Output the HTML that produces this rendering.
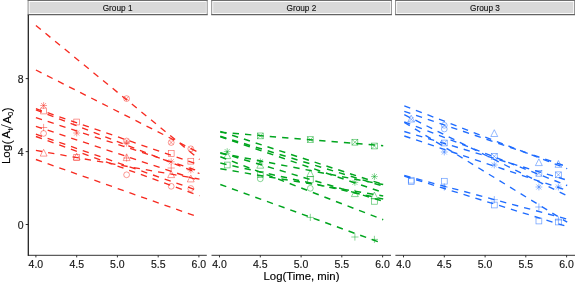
<!DOCTYPE html>
<html><head><meta charset="utf-8"><title>Log plot</title>
<style>html,body{margin:0;padding:0;background:#fff}svg{display:block}</style></head>
<body>
<svg width="575" height="283" viewBox="0 0 575 283" font-family="Liberation Sans, Arial, sans-serif">
<rect width="575" height="283" fill="#fff"/>
<rect x="27.6" y="0" width="180.1" height="15.2" fill="#fff"/>
<path d="M28.1 0.45V14.65M207.2 0.45V14.65" stroke="#8c8c8c" stroke-width="1" fill="none"/>
<path d="M27.6 0.45H207.7" stroke="#6e6e6e" stroke-width="1.15" fill="none"/>
<path d="M27.6 14.65H207.7" stroke="#636363" stroke-width="1.25" fill="none"/>
<rect x="29.6" y="1.95" width="176.3" height="11.2" fill="#d9d9d9"/>
<text x="117.6" y="10.6" font-size="8.25" text-anchor="middle" fill="#111" stroke="#111" stroke-width="0.12">Group 1</text>
<g stroke="#f72a20" stroke-width="1.33" stroke-dasharray="6.35 6.05" fill="none">
<path d="M35.9 25.5L199.5 159.5"/>
<path d="M35.9 70.0L199.5 152.9"/>
<path d="M35.9 108.7L199.5 165.0"/>
<path d="M35.9 109.9L199.5 173.5"/>
<path d="M35.9 117.6L199.5 171.2"/>
<path d="M35.9 126.3L199.5 180.7"/>
<path d="M35.9 134.2L199.5 191.2"/>
<path d="M35.9 136.5L199.5 195.7"/>
<path d="M35.9 150.4L199.5 179.1"/>
<path d="M35.9 159.5L199.5 217.5"/>
</g>
<g stroke="#f72a20" stroke-width="0.65" stroke-opacity="0.72" fill="none">
<path d="M40.2 105.5H47.0M43.6 102.1V108.9"/><path d="M41.1 103.0L46.1 108.0M41.1 108.0L46.1 103.0"/>
<rect x="40.7" y="108.1" width="5.8" height="5.8"/>
<path d="M40.0 127.5H47.2M43.6 123.9V131.1"/>
<circle cx="43.6" cy="133.4" r="2.9"/>
<path d="M43.6 149.3L47.1 156.1L40.2 156.1Z"/>
<rect x="73.8" y="119.1" width="5.8" height="5.8"/>
<path d="M73.2 133.0H80.1M76.7 129.6V136.4"/><path d="M74.2 130.5L79.2 135.5M74.2 135.5L79.2 130.5"/>
<rect x="73.8" y="154.5" width="5.8" height="5.8"/><path d="M76.7 153.2L80.1 160.0L73.2 160.0Z"/>
<circle cx="126.6" cy="98.6" r="2.9"/><path d="M124.6 96.5L128.7 100.6M124.6 100.6L128.7 96.5"/>
<circle cx="126.6" cy="141.0" r="2.9"/><path d="M124.6 138.9L128.7 143.1M124.6 143.1L128.7 138.9"/>
<path d="M123.2 143.2H130.0M126.6 139.8V146.6"/><path d="M124.1 140.7L129.1 145.7M124.1 145.7L129.1 140.7"/>
<path d="M126.6 153.8L130.1 160.6L123.2 160.6Z"/>
<path d="M123.0 158.0H130.2M126.6 154.4V161.6"/>
<circle cx="126.6" cy="174.8" r="2.9"/>
<circle cx="171.2" cy="142.5" r="2.9"/><path d="M169.1 140.4L173.2 144.6M169.1 144.6L173.2 140.4"/>
<rect x="168.3" y="150.6" width="5.8" height="5.8"/>
<path d="M167.8 161.8H174.6M171.2 158.4V165.2"/><path d="M168.7 159.3L173.7 164.3M168.7 164.3L173.7 159.3"/>
<path d="M167.6 168.0H174.8M171.2 164.4V171.6"/>
<path d="M171.2 170.8L174.6 177.6L167.7 177.6Z"/>
<circle cx="171.2" cy="186.3" r="2.9"/>
<circle cx="190.8" cy="148.8" r="2.9"/><path d="M188.7 146.8L192.8 150.9M188.7 150.9L192.8 146.8"/>
<rect x="187.9" y="158.3" width="5.8" height="5.8"/>
<path d="M187.4 170.0H194.2M190.8 166.6V173.4"/><path d="M188.3 167.5L193.3 172.5M188.3 172.5L193.3 167.5"/>
<path d="M190.8 175.1L194.2 181.9L187.3 181.9Z"/>
<circle cx="190.8" cy="188.5" r="2.9"/>
</g>
<path d="M27.9 255.3H206.8" stroke="#1c1c1c" stroke-width="0.9" fill="none"/>
<path d="M35.9 255.3V257.40000000000003" stroke="#1c1c1c" stroke-width="0.9"/>
<text x="35.9" y="268.1" font-size="10.5" text-anchor="middle" fill="#151515" stroke="#151515" stroke-width="0.15">4.0</text>
<path d="M76.7 255.3V257.40000000000003" stroke="#1c1c1c" stroke-width="0.9"/>
<text x="76.7" y="268.1" font-size="10.5" text-anchor="middle" fill="#151515" stroke="#151515" stroke-width="0.15">4.5</text>
<path d="M117.4 255.3V257.40000000000003" stroke="#1c1c1c" stroke-width="0.9"/>
<text x="117.4" y="268.1" font-size="10.5" text-anchor="middle" fill="#151515" stroke="#151515" stroke-width="0.15">5.0</text>
<path d="M158.2 255.3V257.40000000000003" stroke="#1c1c1c" stroke-width="0.9"/>
<text x="158.2" y="268.1" font-size="10.5" text-anchor="middle" fill="#151515" stroke="#151515" stroke-width="0.15">5.5</text>
<path d="M198.9 255.3V257.40000000000003" stroke="#1c1c1c" stroke-width="0.9"/>
<text x="198.9" y="268.1" font-size="10.5" text-anchor="middle" fill="#151515" stroke="#151515" stroke-width="0.15">6.0</text>
<rect x="211.2" y="0" width="180.7" height="15.2" fill="#fff"/>
<path d="M211.7 0.45V14.65M391.4 0.45V14.65" stroke="#8c8c8c" stroke-width="1" fill="none"/>
<path d="M211.2 0.45H391.9" stroke="#6e6e6e" stroke-width="1.15" fill="none"/>
<path d="M211.2 14.65H391.9" stroke="#636363" stroke-width="1.25" fill="none"/>
<rect x="213.2" y="1.95" width="176.9" height="11.2" fill="#d9d9d9"/>
<text x="301.4" y="10.6" font-size="8.25" text-anchor="middle" fill="#111" stroke="#111" stroke-width="0.12">Group 2</text>
<g stroke="#00a51e" stroke-width="1.5" stroke-dasharray="6.35 6.05" fill="none">
<path d="M220.3 132.3L383.2 145.8"/>
<path d="M220.3 131.4L383.2 184.5"/>
<path d="M220.3 136.3L383.2 186.2"/>
<path d="M220.3 136.7L383.2 192.6"/>
<path d="M220.3 153.2L383.2 184.6"/>
<path d="M220.3 152.6L383.2 201.2"/>
<path d="M220.3 156.7L383.2 219.7"/>
<path d="M220.3 163.1L383.2 199.1"/>
<path d="M220.3 168.8L383.2 195.9"/>
<path d="M220.3 184.5L383.2 243.6"/>
</g>
<g stroke="#00a51e" stroke-width="0.65" stroke-opacity="0.72" fill="none">
<path d="M223.8 151.6H230.6M227.2 148.2V155.0"/><path d="M224.7 149.1L229.7 154.1M224.7 154.1L229.7 149.1"/>
<path d="M227.2 151.8L230.7 158.6L223.8 158.6Z"/>
<rect x="224.3" y="162.1" width="5.8" height="5.8"/>
<rect x="257.4" y="133.0" width="5.8" height="5.8"/><path d="M257.4 133.0L263.2 138.8M257.4 138.8L263.2 133.0"/>
<path d="M256.9 161.8H263.7M260.3 158.4V165.2"/><path d="M257.8 159.3L262.8 164.3M257.8 164.3L262.8 159.3"/>
<path d="M260.3 161.4L263.7 168.2L256.8 168.2Z"/>
<rect x="257.4" y="171.6" width="5.8" height="5.8"/>
<circle cx="260.3" cy="178.8" r="2.9"/>
<rect x="307.4" y="136.7" width="5.8" height="5.8"/><path d="M307.4 136.7L313.2 142.5M307.4 142.5L313.2 136.7"/>
<path d="M310.3 169.8L313.7 176.6L306.8 176.6Z"/>
<rect x="307.4" y="176.6" width="5.8" height="5.8"/>
<circle cx="310.3" cy="188.3" r="2.9"/>
<path d="M306.7 217.4H313.9M310.3 213.8V221.0"/>
<rect x="352.0" y="139.3" width="5.8" height="5.8"/><path d="M352.0 139.3L357.8 145.1M352.0 145.1L357.8 139.3"/>
<path d="M351.5 182.4H358.3M354.9 179.0V185.8"/><path d="M352.4 179.9L357.4 184.9M352.4 184.9L357.4 179.9"/>
<path d="M354.9 189.8L358.3 196.6L351.4 196.6Z"/>
<path d="M351.3 237.0H358.5M354.9 233.4V240.6"/>
<rect x="371.5" y="143.1" width="5.8" height="5.8"/><path d="M371.5 143.1L377.3 148.9M371.5 148.9L377.3 143.1"/>
<path d="M371.0 176.6H377.8M374.4 173.2V180.0"/><path d="M371.9 174.1L376.9 179.1M371.9 179.1L376.9 174.1"/>
<path d="M374.4 192.1L377.9 198.9L371.0 198.9Z"/>
<rect x="371.5" y="198.4" width="5.8" height="5.8"/>
<path d="M370.8 239.4H378.0M374.4 235.8V243.0"/>
</g>
<path d="M211.5 255.3H391.0" stroke="#1c1c1c" stroke-width="0.9" fill="none"/>
<path d="M219.5 255.3V257.40000000000003" stroke="#1c1c1c" stroke-width="0.9"/>
<text x="219.5" y="268.1" font-size="10.5" text-anchor="middle" fill="#151515" stroke="#151515" stroke-width="0.15">4.0</text>
<path d="M260.3 255.3V257.40000000000003" stroke="#1c1c1c" stroke-width="0.9"/>
<text x="260.3" y="268.1" font-size="10.5" text-anchor="middle" fill="#151515" stroke="#151515" stroke-width="0.15">4.5</text>
<path d="M301.1 255.3V257.40000000000003" stroke="#1c1c1c" stroke-width="0.9"/>
<text x="301.1" y="268.1" font-size="10.5" text-anchor="middle" fill="#151515" stroke="#151515" stroke-width="0.15">5.0</text>
<path d="M341.8 255.3V257.40000000000003" stroke="#1c1c1c" stroke-width="0.9"/>
<text x="341.8" y="268.1" font-size="10.5" text-anchor="middle" fill="#151515" stroke="#151515" stroke-width="0.15">5.5</text>
<path d="M382.6 255.3V257.40000000000003" stroke="#1c1c1c" stroke-width="0.9"/>
<text x="382.6" y="268.1" font-size="10.5" text-anchor="middle" fill="#151515" stroke="#151515" stroke-width="0.15">6.0</text>
<rect x="395.1" y="0" width="180.0" height="15.2" fill="#fff"/>
<path d="M395.6 0.45V14.65M574.6 0.45V14.65" stroke="#8c8c8c" stroke-width="1" fill="none"/>
<path d="M395.1 0.45H575.1" stroke="#6e6e6e" stroke-width="1.15" fill="none"/>
<path d="M395.1 14.65H575.1" stroke="#636363" stroke-width="1.25" fill="none"/>
<rect x="397.1" y="1.95" width="176.2" height="11.2" fill="#d9d9d9"/>
<text x="485.0" y="10.6" font-size="8.25" text-anchor="middle" fill="#111" stroke="#111" stroke-width="0.12">Group 3</text>
<g stroke="#1f6cff" stroke-width="1.36" stroke-dasharray="6.35 6.05" fill="none">
<path d="M404.3 105.8L567.2 168.7"/>
<path d="M404.3 111.3L567.2 166.7"/>
<path d="M404.3 114.7L567.2 195.9"/>
<path d="M404.3 122.4L567.2 222.2"/>
<path d="M404.3 121.8L567.2 185.5"/>
<path d="M404.3 131.5L567.2 180.2"/>
<path d="M404.3 136.0L567.2 190.5"/>
<path d="M404.3 175.5L567.2 219.1"/>
<path d="M404.3 176.1L567.2 226.6"/>
</g>
<g stroke="#1f6cff" stroke-width="0.65" stroke-opacity="0.72" fill="none">
<path d="M411.2 115.2L414.7 122.0L407.8 122.0Z"/><path d="M408.8 117.0L413.6 121.8M408.8 121.8L413.6 117.0"/>
<rect x="408.3" y="177.3" width="5.8" height="5.8"/>
<rect x="408.3" y="178.7" width="5.8" height="5.8"/>
<circle cx="444.3" cy="129.0" r="2.9"/>
<circle cx="444.3" cy="125.3" r="2.9"/>
<rect x="441.4" y="140.1" width="5.8" height="5.8"/><path d="M441.4 140.1L447.2 145.9M441.4 145.9L447.2 140.1"/>
<path d="M440.9 152.0H447.7M444.3 148.6V155.4"/><path d="M441.8 149.5L446.8 154.5M441.8 154.5L446.8 149.5"/>
<rect x="441.4" y="178.3" width="5.8" height="5.8"/>
<path d="M440.7 187.0H447.9M444.3 183.4V190.6"/>
<path d="M494.3 129.7L497.7 136.5L490.8 136.5Z"/>
<rect x="491.4" y="153.4" width="5.8" height="5.8"/><path d="M491.4 153.4L497.2 159.2M491.4 159.2L497.2 153.4"/>
<path d="M490.9 165.0H497.7M494.3 161.6V168.4"/><path d="M491.8 162.5L496.8 167.5M491.8 167.5L496.8 162.5"/>
<path d="M490.7 199.7H497.9M494.3 196.1V203.3"/>
<rect x="491.4" y="202.1" width="5.8" height="5.8"/>
<path d="M538.9 158.8L542.3 165.6L535.4 165.6Z"/>
<rect x="536.0" y="170.4" width="5.8" height="5.8"/><path d="M536.0 170.4L541.8 176.2M536.0 176.2L541.8 170.4"/>
<path d="M535.5 187.0H542.3M538.9 183.6V190.4"/><path d="M536.4 184.5L541.4 189.5M536.4 189.5L541.4 184.5"/>
<path d="M535.3 207.0H542.5M538.9 203.4V210.6"/>
<rect x="536.0" y="218.1" width="5.8" height="5.8"/>
<path d="M558.4 160.5L561.9 167.3L555.0 167.3Z"/>
<rect x="555.5" y="171.9" width="5.8" height="5.8"/><path d="M555.5 171.9L561.3 177.7M555.5 177.7L561.3 171.9"/>
<path d="M555.0 187.0H561.8M558.4 183.6V190.4"/><path d="M555.9 184.5L560.9 189.5M555.9 189.5L560.9 184.5"/>
<rect x="555.5" y="219.1" width="5.8" height="5.8"/>
<path d="M554.8 220.0H562.0M558.4 216.4V223.6"/>
</g>
<path d="M395.4 255.3H576.2" stroke="#1c1c1c" stroke-width="0.9" fill="none"/>
<path d="M403.5 255.3V257.40000000000003" stroke="#1c1c1c" stroke-width="0.9"/>
<text x="403.5" y="268.1" font-size="10.5" text-anchor="middle" fill="#151515" stroke="#151515" stroke-width="0.15">4.0</text>
<path d="M444.3 255.3V257.40000000000003" stroke="#1c1c1c" stroke-width="0.9"/>
<text x="444.3" y="268.1" font-size="10.5" text-anchor="middle" fill="#151515" stroke="#151515" stroke-width="0.15">4.5</text>
<path d="M485.1 255.3V257.40000000000003" stroke="#1c1c1c" stroke-width="0.9"/>
<text x="485.1" y="268.1" font-size="10.5" text-anchor="middle" fill="#151515" stroke="#151515" stroke-width="0.15">5.0</text>
<path d="M525.8 255.3V257.40000000000003" stroke="#1c1c1c" stroke-width="0.9"/>
<text x="525.8" y="268.1" font-size="10.5" text-anchor="middle" fill="#151515" stroke="#151515" stroke-width="0.15">5.5</text>
<path d="M566.6 255.3V257.40000000000003" stroke="#1c1c1c" stroke-width="0.9"/>
<text x="566.6" y="268.1" font-size="10.5" text-anchor="middle" fill="#151515" stroke="#151515" stroke-width="0.15">6.0</text>
<path d="M28.3 14.9V255.70000000000002" stroke="#1c1c1c" stroke-width="1.25" fill="none"/>
<path d="M25.7 224.5H28.3" stroke="#1c1c1c" stroke-width="0.9"/>
<text x="23.7" y="228.8" font-size="10.5" text-anchor="end" fill="#151515" stroke="#151515" stroke-width="0.15">0</text>
<path d="M25.7 151.6H28.3" stroke="#1c1c1c" stroke-width="0.9"/>
<text x="23.7" y="155.9" font-size="10.5" text-anchor="end" fill="#151515" stroke="#151515" stroke-width="0.15">4</text>
<path d="M25.7 78.6H28.3" stroke="#1c1c1c" stroke-width="0.9"/>
<text x="23.7" y="82.9" font-size="10.5" text-anchor="end" fill="#151515" stroke="#151515" stroke-width="0.15">8</text>
<text x="301.5" y="280.2" font-size="11.35" text-anchor="middle" fill="#000" stroke="#000" stroke-width="0.15">Log(Time, min)</text>
<g transform="translate(10.3 161.8) rotate(-90)" font-size="11.6" fill="#000" stroke="#000" stroke-width="0.15"><text x="-2.3" y="0">Log</text><text x="17.4" y="0.7" font-size="13.4" stroke="none">(</text><text x="23.2" y="0">A</text><text x="31.2" y="2.5" font-size="7.5">t</text><text x="33.1" y="1.8" font-size="16.5" font-family="Liberation Serif, serif" stroke="none">/</text><text x="38.0" y="0.3">A</text><text x="45.9" y="2.7" font-size="7.5">0</text><text x="50.0" y="0.7" font-size="13.4" stroke="none">)</text></g>
</svg>
</body></html>
